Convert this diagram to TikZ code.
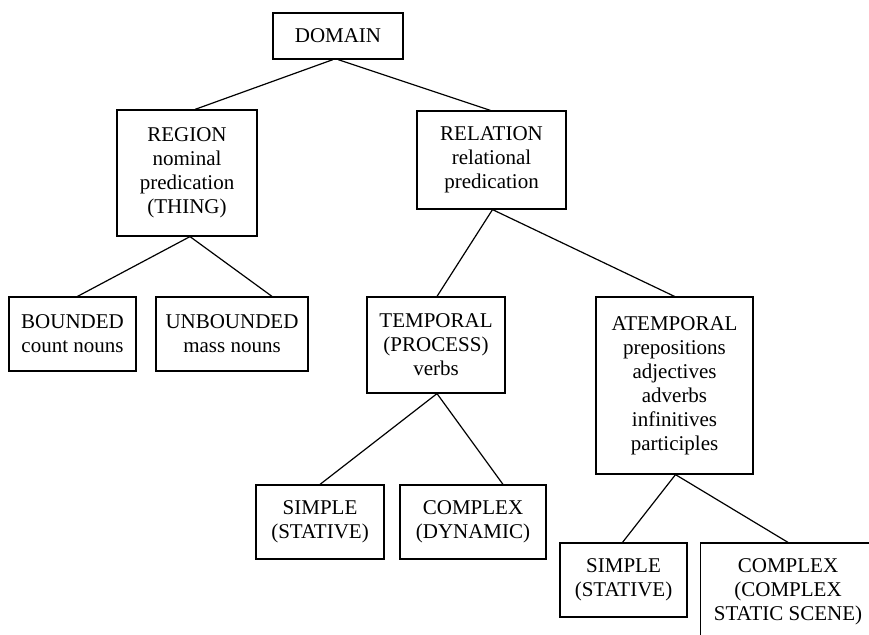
\documentclass[tikz,border=0pt]{standalone}
\usepackage{fontspec}
\setmainfont{Liberation Serif}
\usepackage{tikz}

\begin{document}
\begin{tikzpicture}[x=1pt, y=-1pt]
        \tikzstyle{boxStyle} = [rectangle, draw=black, fill=white, line width=1.2pt,
                                inner sep=0pt, align=center,
                                font=\fontsize{21}{24}\selectfont]
        \tikzstyle{treeEdge} = [draw=black, line width=1.2pt]
        \useasboundingbox (0,0) rectangle (869,634);
        \node[boxStyle, minimum width=130pt, minimum height=46pt] (1) at (338,36) {DOMAIN};
        \node[boxStyle, minimum width=140pt, minimum height=126pt] (2) at (187,173)
            {REGION\\nominal\\predication\\(THING)};
        \node[boxStyle, minimum width=149pt, minimum height=98pt] (3) at (491.5,160)
            {RELATION\\relational\\predication};
        \node[boxStyle, minimum width=127pt, minimum height=74pt] (4) at (72.5,334)
            {BOUNDED\\count nouns};
        \node[boxStyle, minimum width=152pt, minimum height=74pt] (5) at (232,334)
            {UNBOUNDED\\mass nouns};
        \node[boxStyle, minimum width=138pt, minimum height=96pt] (6) at (436,345)
            {TEMPORAL\\(PROCESS)\\verbs};
        \node[boxStyle, minimum width=157pt, minimum height=177pt] (7) at (674.5,385.5)
            {ATEMPORAL\\prepositions\\adjectives\\adverbs\\infinitives\\participles};
        \node[boxStyle, minimum width=128pt, minimum height=74pt] (8) at (320,522)
            {SIMPLE\\(STATIVE)};
        \node[boxStyle, minimum width=146pt, minimum height=74pt] (9) at (473,522)
            {COMPLEX\\(DYNAMIC)};
        \node[boxStyle, minimum width=127pt, minimum height=74pt] (10) at (623.5,580)
            {SIMPLE\\(STATIVE)};
        \node[boxStyle, minimum width=175pt, minimum height=98pt] (11) at (788,592)
            {COMPLEX\\(COMPLEX\\STATIC SCENE)};
        \foreach \from/\to/\a/\b in {1/2/-5/8, 1/3/0/-1, 2/4/3/5, 2/5/3/40,
                                     3/6/1/1, 3/7/1/0, 6/8/1/0, 6/9/1/30,
                                     7/10/1/-1, 7/11/1/0}
            \path[treeEdge] ([xshift=\a pt]\from.south) -- ([xshift=\b pt]\to.north);
    \end{tikzpicture}
\end{document}
